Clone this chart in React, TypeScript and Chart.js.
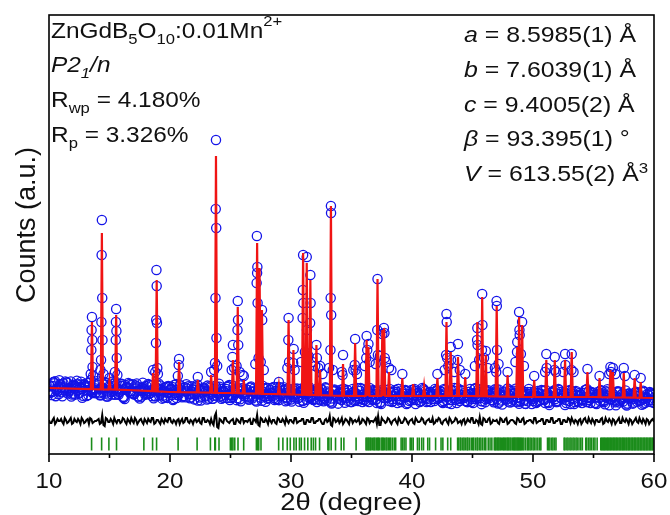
import React, { useEffect, useRef } from "react";
import { Chart, registerables } from "chart.js";
Chart.register(...registerables);

// ---------- data (y in plot units: 0 = bottom of frame) ----------
const xTicks = [10, 20, 30, 40, 50, 60];
const xMinorTicks = [15, 25, 35, 45, 55];

// background of the calculated profile
const bgX = [10, 16.5, 20, 25, 28.5, 35, 40, 45, 50, 55, 60];
const bgY = [66, 64, 62, 61, 60, 58, 58, 58, 57, 57, 56];

// calculated reflections (position 2θ, peak height)
const peakPos = [13.55, 14.37, 15.0, 15.55, 18.6, 18.9, 20.75, 22.3, 23.4, 23.8, 25.2, 25.6, 26.1, 27.2, 27.4, 27.6, 29.0, 29.8, 30.2, 31.0, 31.3, 31.6, 32.1, 32.4, 33.3, 34.3, 35.3, 36.25, 36.4, 37.15, 37.55, 37.7, 38.1, 39.2, 40.1, 41.0, 42.1, 42.85, 43.2, 43.8, 44.4, 45.4, 45.8, 46.1, 47.0, 47.9, 48.7, 48.85, 49.1, 50.1, 51.1, 51.8, 52.65, 53.2, 54.5, 55.5, 56.4, 56.6, 57.5, 58.4, 58.9];
const peakCalc = [132, 221, 74, 139, 81, 174, 92, 74, 79, 298, 94, 147, 74, 211, 186, 144, 69, 134, 104, 201, 191, 174, 109, 84, 248, 90, 111, 114, 107, 175, 124, 126, 82, 76, 70, 68, 76, 132, 102, 97, 77, 132, 157, 99, 148, 79, 107, 137, 129, 74, 94, 94, 94, 102, 82, 76, 84, 82, 81, 76, 72];

// observed points on the peaks and their bases
const obsPeakX = [13.55, 13.52, 13.58, 13.5, 13.6, 14.37, 14.35, 14.4, 14.33, 14.42, 14.3, 15.55, 15.53, 15.57, 15.52, 15.6, 18.88, 18.9, 18.86, 18.92, 18.84, 18.95, 20.75, 20.72, 23.8, 23.78, 23.82, 23.76, 23.84, 23.72, 25.2, 25.16, 25.6, 25.62, 25.58, 25.64, 27.18, 27.22, 27.2, 27.16, 27.24, 27.6, 27.62, 29.8, 29.78, 29.84, 30.22, 30.18, 31.0, 30.98, 31.02, 30.96, 31.3, 31.32, 31.6, 31.62, 31.58, 32.1, 32.14, 33.3, 33.31, 33.28, 33.32, 33.26, 34.3, 34.26, 35.3, 35.27, 35.34, 36.25, 36.3, 36.22, 37.15, 37.13, 37.18, 37.68, 37.72, 37.75, 42.85, 42.87, 42.82, 42.9, 43.2, 43.23, 43.8, 43.77, 45.4, 45.38, 45.42, 45.8, 45.82, 45.78, 46.99, 47.01, 47.03, 46.96, 48.7, 48.68, 48.85, 48.88, 48.9, 51.1, 51.13, 51.8, 51.78, 52.65, 52.68, 53.2, 53.18, 54.5, 56.4, 56.45, 57.5, 58.4, 15.0, 18.6, 22.3, 23.4, 26.1, 29.0, 32.4, 36.4, 37.55, 38.1, 39.2, 42.1, 44.4, 46.1, 47.9, 49.1, 50.1, 55.5, 56.6, 58.9,
  13.45, 13.65, 14.25, 14.5, 15.45, 15.65, 18.78, 19.0, 20.65, 23.65, 23.9, 25.1, 25.3, 25.5, 25.75, 26.0, 27.05, 27.32, 27.5, 27.75, 29.7, 30.3, 30.85, 31.15, 31.45, 31.75, 32.0, 32.25, 32.6, 33.15, 33.45, 34.2, 35.15, 35.45, 36.1, 36.5, 37.0, 37.35, 37.85, 38.3, 42.7, 43.0, 43.5, 43.95, 45.2, 45.55, 45.95, 46.25, 46.85, 47.15, 48.55, 49.0, 49.25, 51.0, 51.9, 52.5, 53.35, 56.3, 56.8, 57.6];
const obsPeakY = [137, 124, 114, 104, 87, 234, 199, 156, 132, 114, 94, 145, 132, 123, 114, 96, 184, 168, 134, 131, 111, 86, 95, 89, 314, 245, 226, 156, 116, 91, 109, 97, 153, 134, 124, 109, 218, 187, 181, 171, 151, 144, 134, 136, 114, 92, 105, 91, 199, 164, 151, 136, 197, 124, 179, 151, 131, 109, 96, 248, 241, 156, 139, 104, 99, 79, 115, 89, 84, 118, 104, 96, 175, 124, 99, 126, 121, 96, 140, 132, 99, 96, 107, 94, 110, 94, 126, 114, 109, 160, 129, 104, 153, 148, 104, 82, 112, 102, 142, 124, 119, 100, 86, 97, 84, 100, 89, 100, 84, 85, 87, 82, 86, 79, 76, 84, 77, 82, 78, 72, 88, 110, 120, 86, 80, 80, 80, 103, 82, 132, 78, 78, 86, 76,
  80, 78, 84, 80, 82, 79, 82, 80, 78, 84, 88, 84, 86, 88, 82, 79, 90, 96, 92, 84, 86, 84, 92, 102, 98, 92, 88, 86, 80, 86, 84, 82, 84, 80, 88, 92, 90, 98, 92, 84, 84, 88, 82, 84, 88, 94, 96, 86, 86, 90, 92, 100, 88, 82, 82, 82, 82, 80, 80, 78];

// observed background: scatter about the background on four interleaved grids (0.2° steps, offsets 0, 0.05, 0.1, 0.15°)
const obsStart = 10;
const obsStep = 0.2;
const obsDev = [
  3, -4, 6, -2, -6, 1, 5, -3, 0, 7, -5, 2, -1, 4, -7, 3, 6, -2, -4, 1,
  5, -6, 2, 7, -3, 0, -5, 4, 1, -2, 6, -7, 3, -1, 5, -4, 2, -6, 0, 4,
  -3, 7, -2, 1, -5, 3, 6, -4, 0, -6, 2, 5, -1, -3, 7, -5, 1, 4, -2, 6,
  -7, 0, 3, -4, 5, 2, -6, 1, -3, 6, -1, 4, -5, 2, 7, -2, -4, 0, 5, -6,
  3, 1, -3, 6, -5, 2, -1, 4, -7, 5, 0, -2, 6, -4, 3, -6, 1, 7, -3, 2,
  -5, 4, 0, -1, 6, -6, 3, -2, 5, -4, 1, 7, -5, 2, -3, 4, 0, -7, 6, -1,
  3, -4, 5, -2, 1, -6, 4, 2, -3, 7, -1, -5, 3, 0, 6, -4, 2, -6, 5, -2,
  1, 4, -3, 6, -7, 0, 3, -1, 5, -5, 2, 7, -4, 1, -2, 6, -6, 3, 0, -3,
  5, -1, 4, -5, 2, -7, 6, 1, -4, 3, -2, 5, 0, -6, 7, -3, 2, -1, 4, -5,
  6, -2, 1, -4, 3, 7, -6, 0, 5, -3, 2, -1, 6, -5, 4, -2, 1, -7, 3, 5,
  -4, 0, 6, -3, 2, -6, 4, 1, -1, 7, -5, 3, -2, 5, 0, -4, 6, -7, 2, 1,
  -3, 4, -5, 6, -1, 2, -6, 3, 7, -4, 0, 5, -2, 1, -5, 6, -3, 4, 2, -6,
  -1, 3, 5, -4, 2, -7, 6, 0, -2, 4, -5,
];
const obsDevQ1 = [
  2, -7, 5, -1, 8, -4, 0, 6, -3, -8, 4, 1, -5, 7, -2, 3, -6, 9, -1, -4,
  6, 0, -3, 5, -7, 2, 8, -5, 1, -2, 4, -9, 3, 6, -1, -4, 7, 0, -6, 2,
  5, -3, 1, -7, 4, 8, -2, 0, -5, 6, 3, -8, 2, -1, 7, -4, 5, 1, -6, 3,
  -2, 8, -5, 0, 4, -7, 6, -1, 2, -3, 9, -6, 1, 4, -2, -5, 7, 0, 3, -8,
  5, -1, -4, 6, 2, -7, 3, 0, 8, -3, -5, 4, 1, -6, 7, -2, 0, 5, -4, 3,
  -7, 6, 1, -3, 4, -8, 2, 7, -1, -5, 3, 0, 6, -4, 8, -2, -6, 1, 5, -3,
  4, -1, -7, 6, 0, 3, -5, 8, -2, 1, -4, 7, -6, 2, 5, -3, 0, -8, 4, 6,
  -1, 3, -5, 2, 7, -4, 0, 6, -7, 1, -2, 5, 3, -6, 8, -1, -3, 4, 2, -5,
  6, -2, 0, 7, -4, 3, -8, 5, 1, -3, 6, -1, -5, 4, 2, -7, 8, 0, -2, 3,
  -6, 5, 1, -4, 7, -3, 2, -8, 4, 0, 6, -5, 3, -1, -7, 5, 2, -4, 8, -2,
  1, -6, 4, 3, -3, 7, -5, 0, 6, -2, -4, 5, 1, -8, 3, 7, -1, -5, 2, 4,
  -6, 0, 8, -3, 5, -1, -7, 2, 4, -5, 6, 1, -2, 3, -8, 5, 0, -4, 7, -1,
  3, -6, 2, 5, -3, 0, -5, 4, 6, -2,
];
const obsDevHalf = [
  -5, 2, 7, -3, 4, -8, 1, 6, -2, -6, 3, 8, -4, 0, 5, -7, 2, -1, 6, -3,
  4, -6, 1, 7, -5, 3, -2, 8, -4, 0, -7, 5, 2, -3, 6, -1, 4, -8, 3, 1,
  -2, 6, -5, 0, 7, -4, 2, -6, 5, -1, 3, -7, 8, -3, 1, 4, -5, 6, -2, 0,
  5, -8, 3, 2, -4, 7, -1, -6, 4, 0, 6, -3, 1, -5, 8, -2, 3, -7, 2, 5,
  -1, 4, -6, 7, -3, 0, 5, -4, 2, -8, 6, 1, -2, 3, -5, 7, -1, 4, -6, 2,
  0, -3, 6, -7, 4, 1, -5, 8, -2, 3, -4, 5, -1, -6, 7, 2, -3, 4, 0, -8,
  6, -2, 3, -5, 1, 7, -4, 0, 5, -6, 2, -1, 8, -3, 4, -7, 1, 6, -2, 3,
  -5, 0, 4, -3, 7, -6, 2, 5, -1, -4, 6, -8, 3, 1, -2, 5, -5, 4, 0, 7,
  -3, 2, -6, 6, -1, 3, -4, 8, -7, 0, 5, -2, 1, 4, -6, 3, -1, 7, -5, 2,
  -3, 6, 0, -4, 5, -7, 2, 1, -2, 8, -6, 3, 4, -1, -5, 6, -3, 2, 0, -7,
  5, 1, -4, 7, -2, 3, -6, 4, 0, -5, 8, -1, 2, -3, 6, -7, 3, 5, -4, 1,
  -2, 7, -5, 0, 4, -6, 3, -1, 6, -3, 2, -8, 5, 1, -4, 6, -2, 3, -7, 4,
  0, -5, 6, 2, -3, 7, -1, -4, 5, 3,
];
const obsDevQ3 = [
  -3, 6, -8, 1, 4, -2, 7, -5, 0, 3, -6, 5, 2, -9, 4, -1, 6, -3, 0, 8,
  -4, 1, 5, -7, 3, -2, 6, 0, -5, 4, -8, 2, 7, -1, -3, 5, -6, 1, 8, -4,
  0, -2, 6, -5, 3, 1, -7, 4, -1, 5, -3, 7, -6, 0, 2, -4, 8, -2, -5, 3,
  6, -1, -8, 4, 1, -3, 5, -6, 7, 0, -4, 2, -2, 6, -7, 3, 1, -5, 8, -1,
  -3, 4, -6, 2, 5, -8, 0, 3, -2, 6, -4, 1, 7, -5, 2, -1, 4, -7, 6, 0,
  -2, 5, -4, 3, -6, 8, 1, -3, 0, 4, -7, 2, 6, -1, -5, 3, -8, 5, 0, 2,
  -4, 7, -2, 1, -6, 4, 3, -5, 8, -3, 0, 6, -1, -4, 2, 5, -7, 1, 3, -2,
  7, -6, 0, 4, -3, 5, -1, -8, 2, 6, -4, 0, 3, -5, 7, -2, 1, -6, 4, 2,
  -1, 5, -7, 3, 0, -4, 6, -2, 8, -5, 1, 3, -6, 2, -1, 7, -3, 4, -8, 0,
  5, -2, 3, -6, 1, 7, -4, 0, 2, -5, 6, -3, 8, -1, -4, 3, -7, 5, 1, -2,
  4, -5, 0, 6, -3, 2, -8, 5, 1, -4, 7, -1, 3, -6, 0, 4, -2, 6, -5, 2,
  -3, 7, -1, -6, 4, 0, 5, -4, 2, -7, 8, -2, 1, -3, 6, -5, 3, 0, -8, 4,
  2, -1, 5, -3, 6, -6, 1, 3, -4, 0,
];

// difference curve (obs - calc): offset level and deviations on the 0 and 0.1° grids
const diffLevel = 33;
const diffDev = [
  1, -2, 3, -1, 0, 2, -3, 1, -1, 3, -2, 0, 2, -3, 1, -1, 2, 3, -2, 0,
  1, -3, 6, -5, 2, -1, 0, 3, -2, 1, -1, 2, -3, 0, 3, -2, 1, -1, 2, -3,
  0, 2, -1, 3, -2, 1, -3, 0, 2, -1, 3, -2, 0, 1, -3, 2, -1, 3, -2, 0,
  1, -1, 2, -3, 3, -1, 0, 2, -4, 8, -7, 1, -2, 3, -1, 0, 2, -3, 1, -2,
  3, 0, -1, 2, -3, 1, 6, -5, 2, -1, 0, 3, -2, 1, -3, 2, -1, 0, 3, -2,
  1, -2, 3, -1, 0, 2, -3, 1, -1, 3, -2, 0, 2, -3, 1, -1, 5, -5, 2, 0,
  -2, 3, -1, 1, -3, 2, 0, -1, 3, -2, 1, -3, 2, 0, -1, 3, 5, -4, 1, -2,
  3, -1, 0, 2, -3, 1, -2, 3, -1, 0, 2, -3, 1, -1, 3, -2, 0, 2, -1, -3,
  1, 3, -2, 0, 2, -3, 1, -1, 3, -2, 0, 1, -3, 2, -1, 3, -2, 0, 4, -4,
  2, -1, 3, -2, 0, 1, -3, 2, -1, 3, -2, 1, 0, -3, 2, -1, 3, -2, 0, 1,
  -2, 3, -1, 0, 2, -3, 1, -1, 3, -2, 0, 2, -3, 1, -1, 2, 3, -2, 0, 1,
  -3, 2, -1, 3, -2, 0, 1, -1, 2, -3, 3, -1, 0, 2, -3, 1, -2, 3, -1, 0,
  2, -3, 1, -1, 3, -2, 0, 2, -3, 1, -1,
];
const diffDevHalf = [
  -2, 1, -3, 2, 0, -1, 3, -2, 1, -3, 2, -1, 0, 3, -2, 1, -3, 2, -1, 0,
  2, -2, -4, 3, -1, 2, -3, 0, 1, -2, 3, -1, 2, -2, 0, 3, -3, 1, -1, 2,
  -2, 0, 3, -3, 1, -1, 2, -2, 0, 3, -1, 1, -3, 2, 0, -2, 3, -1, 1, -3,
  2, 0, -2, 3, -1, 1, -3, -2, 5, -6, 2, -1, 3, 0, -2, 1, -3, 2, -1, 3,
  -2, 0, 1, -3, 2, -1, -4, 3, -1, 2, -3, 0, 1, -2, 3, -1, 2, -3, 0, 1,
  -1, 3, -2, 0, 2, -3, 1, -1, 3, -2, 0, 2, -1, -3, 2, 0, -4, 3, -1, 2,
  0, -3, 2, -1, 3, -2, 1, 0, -3, 2, -1, 3, -2, 0, 1, -3, -4, 3, 0, -1,
  2, -3, 1, -1, 3, -2, 0, 2, -3, 1, -2, 3, -1, 0, 2, -3, 1, -1, 3, -2,
  0, 2, -3, 1, -1, 3, -2, 0, 2, -1, -3, 2, -1, 0, 3, -2, 1, -3, -3, 3,
  -1, 2, -3, 1, 0, -2, 3, -1, 2, -3, 0, 1, -2, 3, -1, 2, -3, 0, 1, -1,
  3, -2, 0, 2, -3, 1, -1, 3, -2, 0, 2, -3, 1, -1, 3, -2, 0, 1, -3, 2,
  -1, 3, -2, 0, 2, -3, 1, -1, 3, -2, 0, 2, -3, 1, -1, 3, -2, 0, 2, -3,
  1, -1, 3, -2, 0, 2, -3, 1, -1, 2,
];

// Bragg reflection markers
const braggLevel = 10;
const braggPos = [13.52, 14.35, 14.95, 15.58, 17.84, 18.56, 18.89, 20.67, 22.24, 23.34, 23.7, 23.75, 24.05, 24.99, 25.1, 25.2, 25.35, 25.62, 26.09, 27.14, 27.25, 27.33, 27.52, 28.98, 29.33, 29.69, 29.94, 30.24, 30.43, 30.7, 30.85, 31.12, 31.39, 31.67, 31.85, 32.03, 32.36, 33.05, 33.13, 33.32, 33.68, 34.15, 34.37, 35.38,
  36.2, 36.28, 36.37, 36.45, 36.55, 36.62, 36.75, 36.85, 36.93, 37.05, 37.15, 37.22, 37.3, 37.45, 37.55, 37.62, 37.72, 37.85, 37.93, 38.05, 38.15, 38.25, 38.4, 38.55, 38.65,
  39.1, 39.22, 39.35, 39.5, 39.85, 39.97, 40.1, 40.45, 40.6, 40.8, 40.95, 41.3, 41.45, 41.95, 42.4, 42.55, 42.95, 43.2,
  43.77, 43.85, 43.98, 44.05, 44.2, 44.3, 44.42, 44.55, 44.62, 44.75, 44.9, 45.02, 45.1, 45.25, 45.38, 45.45, 45.6, 45.7,
  45.85, 46.0, 46.1, 46.3, 46.45, 46.6, 46.8, 46.88, 46.95, 47.05, 47.12, 47.2, 47.3, 47.38, 47.5, 47.58, 47.65, 47.75, 47.85, 47.92, 48.0, 48.1, 48.18, 48.3, 48.38, 48.45, 48.52, 48.6, 48.68, 48.75, 48.82, 48.9, 48.98, 49.05, 49.15, 49.25, 49.4, 49.55, 49.62, 49.75, 49.85, 50.0, 50.1, 50.25, 50.4, 50.55, 50.65,
  51.2, 51.3, 51.4, 51.55, 51.65, 51.78, 51.9,
  52.57, 52.65, 52.8, 52.9, 53.05, 53.15, 53.3, 53.4, 53.55, 53.65, 53.8, 53.95, 54.08,
  54.36, 54.45, 54.6, 54.72, 54.85, 55.0, 55.12, 55.3,
  55.6, 55.68, 55.76, 55.85, 55.92, 56.0, 56.1, 56.18, 56.25, 56.35, 56.42, 56.5, 56.6, 56.68, 56.75, 56.85, 56.92, 57.0, 57.1, 57.18, 57.25, 57.35, 57.42, 57.5, 57.58, 57.68, 57.75, 57.85, 57.92, 58.0, 58.1, 58.18, 58.25, 58.35, 58.42, 58.5, 58.6, 58.68, 58.75, 58.85, 58.92, 59.0, 59.1, 59.18, 59.25, 59.35, 59.42, 59.5, 59.6, 59.68, 59.75, 59.85, 59.92];

type Seg = { t: string; sub?: boolean; sup?: boolean; it?: boolean; dy?: number };
const leftLines: Seg[][] = [
  [{ t: "ZnGdB" }, { t: "5", sub: true }, { t: "O" }, { t: "10", sub: true }, { t: ":0.01Mn" }, { t: "2+", sup: true }],
  [{ t: "P2", it: true }, { t: "1", sub: true, it: true }, { t: "/n", it: true }],
  [{ t: "R" }, { t: "wp", sub: true }, { t: " = 4.180%" }],
  [{ t: "R" }, { t: "p", sub: true }, { t: " = 3.326%" }],
];
const leftBaselines = [38, 72, 107, 142];
const rightLines: Seg[][] = [
  [{ t: "a", it: true }, { t: " = 8.5985(1) Å" }],
  [{ t: "b", it: true }, { t: " = 7.6039(1) Å" }],
  [{ t: "c", it: true }, { t: " = 9.4005(2) Å" }],
  [{ t: "β", it: true }, { t: " = 93.395(1) °" }],
  [{ t: "V", it: true }, { t: " = 613.55(2) Å" }, { t: "3", sup: true, dy: -0.36 }],
];
const rightBaselines = [42, 77, 112, 146, 181];
const xTitle = "2θ (degree)";
const yTitle = "Counts (a.u.)";

// ---------- styling ----------
const BLUE = "#1414e8";
const RED = "#f01414";
const GREEN = "#1a8c1a";
const FONT = '"Liberation Sans", Arial, sans-serif';

function bgAt(x: number): number {
  for (let i = 0; i < bgX.length - 1; i++) {
    if (x >= bgX[i] && x <= bgX[i + 1]) {
      const f = (x - bgX[i]) / (bgX[i + 1] - bgX[i]);
      return bgY[i] + f * (bgY[i + 1] - bgY[i]);
    }
  }
  return bgY[bgY.length - 1];
}

function drawRich(ctx: CanvasRenderingContext2D, segs: Seg[], x: number, y: number, size: number, sx: number, align: "left" | "center" | "right" = "left") {
  const fontFor = (s: Seg) => `${s.it ? "italic " : ""}${s.sub || s.sup ? size * 0.68 : size}px ${FONT}`;
  const widths = segs.map((s) => {
    ctx.font = fontFor(s);
    return ctx.measureText(s.t).width * sx;
  });
  const total = widths.reduce((a, b) => a + b, 0);
  let cx = align === "right" ? x - total : align === "center" ? x - total / 2 : x;
  ctx.textAlign = "left";
  ctx.textBaseline = "alphabetic";
  segs.forEach((s, i) => {
    ctx.font = fontFor(s);
    let dy = 0;
    if (s.sub) dy = size * 0.26;
    if (s.sup) dy = size * (s.dy ?? -0.55);
    ctx.save();
    ctx.translate(cx, y + dy);
    ctx.scale(sx, 1);
    ctx.fillText(s.t, 0, 0);
    ctx.restore();
    cx += widths[i];
  });
}

const decor = {
  id: "decor",
  afterDatasetsDraw(chart: any) {
    const { ctx, chartArea: ca, scales } = chart;
    const xs = scales.x;
    ctx.save();
    ctx.strokeStyle = "#000";
    ctx.lineWidth = 1.6;
    ctx.strokeRect(ca.left, ca.top, ca.right - ca.left, ca.bottom - ca.top);
    ctx.beginPath();
    xTicks.forEach((v) => {
      const p = xs.getPixelForValue(v);
      ctx.moveTo(p, ca.bottom);
      ctx.lineTo(p, ca.bottom + 8);
    });
    xMinorTicks.forEach((v) => {
      const p = xs.getPixelForValue(v);
      ctx.moveTo(p, ca.bottom);
      ctx.lineTo(p, ca.bottom + 4);
    });
    ctx.stroke();
    ctx.fillStyle = "#111";
    xTicks.forEach((v) => {
      drawRich(ctx, [{ t: String(v) }], xs.getPixelForValue(v), 488, 21.5, 1.12, "center");
    });
    drawRich(ctx, [{ t: xTitle }], 351, 510, 23, 1.19, "center");
    ctx.save();
    ctx.translate(35, 225);
    ctx.rotate(-Math.PI / 2);
    ctx.font = `27px ${FONT}`;
    ctx.textAlign = "center";
    ctx.textBaseline = "alphabetic";
    ctx.fillText(yTitle, 0, 0);
    ctx.restore();
    leftLines.forEach((l, i) => drawRich(ctx, l, 51, leftBaselines[i], 22, 1.11, "left"));
    rightLines.forEach((l, i) => drawRich(ctx, l, 464, rightBaselines[i], 22, 1.13, "left"));
    ctx.restore();
  },
};

export default function App() {
  const ref = useRef<HTMLCanvasElement | null>(null);
  useEffect(() => {
    document.body.style.margin = "0";
    const canvas = ref.current;
    if (!canvas) return;

    const calcPts: { x: number; y: number }[] = bgX.map((x, i) => ({ x, y: bgY[i] }));
    peakPos.forEach((p, i) => {
      const b = bgAt(p);
      calcPts.push({ x: p - 0.09, y: b }, { x: p, y: peakCalc[i] }, { x: p + 0.09, y: b });
    });
    calcPts.sort((a, b) => a.x - b.x);

    const obsBg: { x: number; y: number }[] = [];
    const diff: { x: number; y: number }[] = [];
    obsDev.forEach((d, i) => {
      const x = obsStart + i * obsStep;
      obsBg.push({ x, y: bgAt(x) + d });
      diff.push({ x, y: diffLevel + diffDev[i] });
      if (i < obsDevHalf.length) {
        const xq1 = x + obsStep / 4;
        const xh = x + obsStep / 2;
        const xq3 = x + (3 * obsStep) / 4;
        obsBg.push({ x: xq1, y: bgAt(xq1) + obsDevQ1[i] });
        obsBg.push({ x: xh, y: bgAt(xh) + obsDevHalf[i] });
        obsBg.push({ x: xq3, y: bgAt(xq3) + obsDevQ3[i] });
        diff.push({ x: xh, y: diffLevel + diffDevHalf[i] });
      }
    });
    const obsPk = obsPeakX.map((x, i) => ({ x, y: obsPeakY[i] }));
    const bragg = braggPos.map((x) => ({ x, y: braggLevel }));

    const circle = { pointStyle: "circle", pointRadius: 4.6, borderColor: BLUE, backgroundColor: "rgba(0,0,0,0)", borderWidth: 1.3 };
    const chart = new Chart(canvas, {
      type: "scatter",
      data: {
        datasets: [
          { label: "calc", data: calcPts, showLine: true, borderColor: RED, borderWidth: 2.2, pointRadius: 0, tension: 0, order: 0 } as any,
          { label: "diff", data: diff, showLine: true, borderColor: "#000", borderWidth: 2, pointRadius: 0, tension: 0, order: 1 } as any,
          { label: "bragg", data: bragg, pointStyle: "line", pointRotation: 90, pointRadius: 6.5, borderColor: GREEN, backgroundColor: GREEN, borderWidth: 1.6, order: 2 } as any,
          { label: "obsPeaks", data: obsPk, ...circle, order: 3 } as any,
          { label: "obsBg", data: obsBg, ...circle, order: 4 } as any,
        ],
      },
      options: {
        responsive: false,
        animation: false,
        devicePixelRatio: 1,
        events: [],
        layout: { padding: { left: 49, right: 16, top: 15, bottom: 61 } },
        plugins: { legend: { display: false }, tooltip: { enabled: false } },
        scales: {
          x: { type: "linear", min: 10, max: 60, display: false },
          y: { type: "linear", min: 0, max: 439, display: false },
        },
      },
      plugins: [decor],
    });
    return () => chart.destroy();
  }, []);
  return <canvas ref={ref} width={670} height={515} style={{ display: "block" }} />;
}
